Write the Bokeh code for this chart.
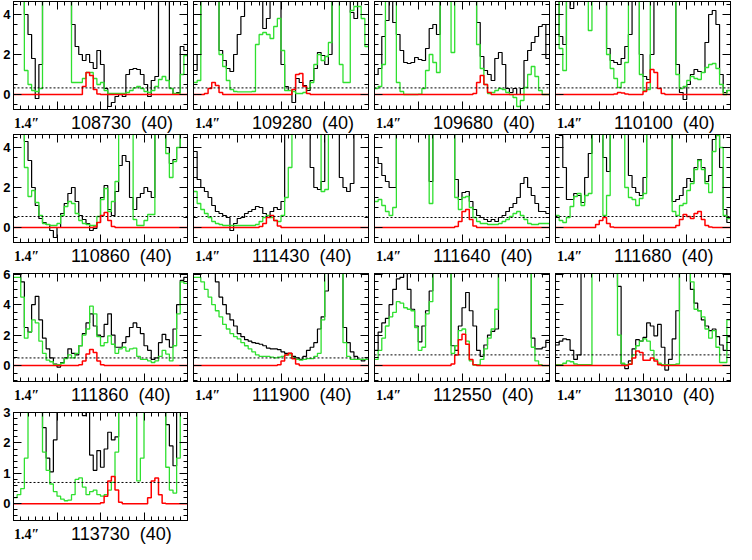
import numpy as np
from bokeh.plotting import figure
from bokeh.models import LinearAxis, FixedTicker, Range1d, Span, Div
from bokeh.layouts import column, row
from bokeh.embed import file_html
from bokeh.resources import INLINE

HI = 9.9  # channel off the top of the panel

# ---------------- data (48 channels, velocity -60..60) ----------------
obs_108730 = [HI, HI, HI, 4.0, 3.0, 1.8, -0.2, 1.5,
              HI, HI, HI, HI, HI, HI, HI, HI,
              3.5, 2.4, 2.0, 1.7, 2.0, 1.6, 1.3, 2.2,
              1.5, 0.3, -0.6, -0.4, -0.1, 0.0, -0.1, 1.0,
              1.25, 1.3, 1.25, 1.0, 0.5, -0.1, 0.7, 0.9,
              HI, HI, HI, 0.3, 0.0, 0.1, 2.4, 2.2]
mod_108730 = [HI, HI, HI, 1.2, 0.5, 0.2, 0.15, 0.3,
              HI, HI, HI, HI, HI, HI, HI, HI,
              0.6, 0.6, 0.6, 0.8, 1.1, 1.1, 0.8, 0.5,
              0.6, 0.2, 0.05, 0.05, 0.05, 0.05, 0.05, 0.1,
              0.2, 0.33, 0.4, 0.3, 0.15, 0.1, 0.2, 0.4,
              0.75, 0.9, 0.7, 0.3, 0.05, 0.05, 1.0, 1.95]
fit_108730 = [0, 0, 0, 0, 0, 0, 0, 0,
              0, 0, 0, 0, 0, 0, 0, 0,
              0, 0, 0, 0.4, 1.1, 0.95, 0.25, 0.02,
              0, 0, 0, 0, 0, 0, 0, 0,
              0, 0, 0, 0, 0, 0, 0, 0,
              0, 0, 0, 0, 0, 0, 0, 0]

obs_109280 = [1.2, 2.0, HI, HI, HI, HI, HI, 2.2,
              1.7, 1.3, 1.15, 2.0, 3.0, 3.9, HI, HI,
              HI, HI, HI, 3.3, 3.8, HI, HI, HI,
              1.5, 0.4, 0.2, -0.4, 0.8, 0.6, 0.45, 0.2,
              0.7, 1.3, 2.1, 1.95, 1.5, 2.0, HI, HI,
              HI, HI, HI, 4.1, 3.8, HI, HI, HI]
mod_109280 = [0.6, 0.7, HI, HI, HI, HI, HI, 2.0,
              1.4, 0.7, 0.25, 0.15, 0.13, 0.13, 0.13, 0.13,
              0.15, 2.5, 3.0, 3.1, 3.0, 2.8, 3.4, 3.8,
              2.2, 0.2, 0.2, 0.15, 0.05, 0.05, 0.1, 0.3,
              0.6, 1.5, 2.0, 1.7, 1.9, 2.6, HI, HI,
              1.5, 0.6, 0.6, 4.2, 4.4, 4.4, 3.8, 2.4]
fit_109280 = [0, 0, 0, 0.05, 0.3, 0.6, 0.45, 0.1,
              0, 0, 0, 0, 0, 0, 0, 0,
              0, 0, 0, 0, 0, 0, 0, 0,
              0, 0, 0, 0.25, 1.0, 1.05, 0.4, 0.05,
              0, 0, 0, 0, 0, 0, 0, 0,
              0, 0, 0, 0, 0, 0, 0, 0]

obs_109680 = [1.0, 1.3, 2.9, 3.7, HI, 3.6, 3.0, 2.2,
              1.6, 1.55, 1.6, 1.85, 1.75, 1.7, 2.3, 3.3,
              3.5, 3.0, HI, HI, HI, HI, HI, HI,
              HI, HI, HI, HI, 3.6, 1.9, 1.2, 1.0,
              0.7, 1.8, 2.1, 1.5, 0.3, 0.1, 0.3, 0.0,
              0.3, 1.7, 2.2, 2.6, 2.9, 3.4, 3.5, 1.8]
mod_109680 = [0.3, 0.4, 1.5, HI, HI, HI, 0.6, 0.15,
              0.0, 0.0, 0.0, 0.0, 0.02, 0.3, 1.2, 2.0,
              1.6, 1.1, HI, HI, HI, 2.1, HI, HI,
              HI, HI, HI, HI, 2.5, 1.3, 0.5, 0.05,
              0.1, 0.2, 0.3, 0.25, 0.1, 0.0, -0.15, -0.6,
              -0.3, 0.35, 1.0, 1.4, 0.9, 0.2, 0.0, 0.0]
fit_109680 = [0, 0, 0, 0, 0, 0, 0, 0,
              0, 0, 0, 0, 0, 0, 0, 0,
              0, 0, 0, 0, 0, 0, 0, 0,
              0, 0, 0, 0.05, 0.6, 0.95, 0.5, 0.1,
              0, 0, 0, 0, 0, 0, 0, 0,
              0, 0, 0, 0, 0, 0, 0, 0]

obs_110100 = [HI, 2.9, 2.5, HI, 4.3, HI, HI, HI,
              HI, HI, HI, HI, HI, HI, 2.3, 1.7,
              1.6, 1.5, 1.8, 2.4, 3.0, HI, HI, 2.0,
              0.9, 0.75, 2.0, HI, HI, HI, HI, HI,
              HI, 1.5, 0.1, -0.25, 0.5, 1.0, 1.25, 1.15,
              1.1, 2.6, 4.0, 4.2, 3.5, 1.0, 0.1, 0.2]
mod_110100 = [HI, 2.3, 1.2, HI, HI, HI, HI, HI,
              HI, 3.2, HI, HI, HI, HI, 2.0, 1.3,
              0.8, 0.35, 0.6, 1.6, HI, HI, HI, 1.0,
              0.2, 0.25, HI, HI, HI, HI, HI, HI,
              HI, 1.0, 0.3, 0.4, 0.7, 0.9, 0.8, 0.75,
              1.1, 1.35, 1.5, 1.55, 1.3, 0.5, 0.0, 0.2]
fit_110100 = [0, 0, 0, 0, 0, 0, 0, 0,
              0, 0, 0, 0, 0, 0, 0, 0,
              0.03, 0.1, 0.08, 0.02, 0, 0, 0, 0,
              0.15, 0.6, 1.25, 1.1, 0.3, 0.05, 0, 0,
              0, 0, 0, 0, 0, 0, 0, 0,
              0, 0, 0, 0, 0, 0, 0, 0]

obs_110860 = [HI, HI, HI, 4.3, 3.35, 2.0, 1.1, 0.45,
              0.25, 0.15, -0.15, -0.5, 0.0, 0.7, 1.2, 1.7,
              2.0, 1.3, 0.6, 0.4, 0.2, -0.15, -0.05, 0.25,
              1.5, 2.1, 0.9, 0.6, 1.8, 3.1, 3.6, 3.3,
              1.5, 0.9, 1.5, 1.7, 2.0, 1.8, 1.5, HI,
              HI, HI, 4.0, 3.2, 3.4, 4.0, HI, HI]
mod_110860 = [HI, HI, HI, 3.0, 1.55, 1.85, 1.25, 0.6,
              0.2, 0.15, 0.1, 0.1, 0.2, 0.6, 1.05, 1.3,
              1.2, 0.7, 0.35, 0.2, 0.15, 0.1, 0.1, 0.55,
              1.4, 1.95, 0.8, 1.3, 2.3, HI, HI, HI,
              HI, 0.4, 0.1, 0.1, 0.35, 0.65, 0.65, HI,
              HI, HI, 3.7, 2.5, 3.3, 4.0, HI, HI]
fit_110860 = [0, 0, 0, 0, 0, 0, 0, 0,
              0, 0, 0, 0, 0, 0, 0, 0,
              0, 0, 0, 0, 0, 0, 0.03, 0.25,
              0.6, 0.75, 0.35, 0.05, 0, 0, 0, 0,
              0, 0, 0, 0, 0, 0, 0, 0,
              0, 0, 0, 0, 0, 0, 0, 0]

obs_111430 = [3.8, 2.4, 2.0, 1.8, 1.5, 1.1, 0.8, 0.7,
              0.6, 0.5, -0.15, 0.2, 0.45, 0.5, 0.7, 0.8,
              0.9, 1.05, 1.0, 0.7, 0.6, 0.8, 1.0, 0.9,
              1.3, HI, HI, HI, HI, HI, HI, HI,
              3.0, 2.0, 1.9, 2.3, HI, HI, HI, HI,
              2.5, 2.0, 1.8, 2.2, HI, HI, HI, HI]
mod_111430 = [1.8, 1.2, 0.9, 0.7, 0.5, 0.3, 0.2, 0.15,
              0.1, 0.1, 0.1, 0.1, 0.1, 0.1, 0.1, 0.1,
              0.1, 0.15, 0.3, 0.5, 0.6, 0.5, 0.35, 0.3,
              0.6, 1.5, 3.0, HI, HI, HI, HI, HI,
              HI, HI, HI, 1.8, 1.9, HI, HI, HI,
              HI, HI, HI, HI, HI, HI, HI, HI]
fit_111430 = [0, 0, 0, 0, 0, 0, 0, 0,
              0, 0, 0, 0, 0, 0, 0, 0,
              0, 0, 0.05, 0.2, 0.5, 0.6, 0.35, 0.08,
              0, 0, 0, 0, 0, 0, 0, 0,
              0, 0, 0, 0, 0, 0, 0, 0,
              0, 0, 0, 0, 0, 0, 0, 0]

obs_111640 = [3.5, 3.2, 2.6, 2.3, 2.0, 2.0, HI, HI,
              HI, HI, HI, HI, HI, HI, HI, 2.3,
              HI, HI, HI, HI, HI, HI, 2.4, 1.4,
              1.75, 1.8, 1.3, 0.9, 0.6, 0.5, 0.4, 0.3,
              0.4, 0.3, 0.5, 0.6, 0.8, 1.0, 1.2, 1.5,
              2.2, 2.5, 2.0, 1.6, 1.2, 0.8, 0.8, 0.7]
mod_111640 = [1.3, 1.4, 1.1, 0.8, 0.6, 1.0, HI, HI,
              HI, HI, HI, HI, HI, HI, HI, 1.2,
              HI, HI, HI, HI, HI, HI, 1.5, 0.9,
              1.5, 1.55, 1.0, 0.5, 0.3, 0.2, 0.2, 0.15,
              0.15, 0.15, 0.2, 0.3, 0.4, 0.55, 0.7, 0.8,
              0.6, 0.4, 0.2, 0.15, 0.15, 0.2, 0.2, 0.2]
fit_111640 = [0, 0, 0, 0, 0, 0, 0, 0,
              0, 0, 0, 0, 0, 0, 0, 0,
              0, 0, 0, 0, 0, 0, 0.05, 0.3,
              0.8, 0.9, 0.4, 0.08, 0, 0, 0, 0,
              0, 0, 0, 0, 0, 0, 0, 0,
              0, 0, 0, 0, 0, 0, 0, 0]

obs_111680 = [HI, 4.6, 3.0, 1.4, 1.4, 1.7, 1.6, 1.25,
              2.5, 3.7, HI, HI, HI, 3.5, 2.8, HI,
              HI, HI, HI, HI, 2.6, 2.0, 1.75, 1.6,
              2.5, HI, HI, HI, HI, HI, HI, HI,
              1.3, 1.4, 1.6, 2.0, 2.45, 2.3, 3.0, 3.4,
              3.0, 2.3, 2.6, 4.4, HI, 3.0, 0.9, 0.25]
mod_111680 = [0.6, 0.35, 0.25, 0.5, 1.05, 1.55, 1.7, 1.1,
              1.6, 1.7, HI, HI, HI, 0.6, 1.6, HI,
              HI, HI, HI, 2.0, 1.5, 1.4, 1.1, 1.45,
              1.7, HI, HI, HI, HI, HI, HI, HI,
              0.8, 0.6, 1.1, 1.2, 1.85, 2.2, 2.9, 3.35,
              2.9, 2.2, 1.75, 3.8, 4.6, 4.0, 0.6, 0.45]
fit_111680 = [0, 0, 0, 0, 0, 0, 0, 0,
              0, 0, 0, 0.15, 0.35, 0.5, 0.2, 0.03,
              0, 0, 0, 0, 0, 0, 0, 0,
              0, 0, 0, 0, 0, 0, 0, 0,
              0, 0.1, 0.4, 0.65, 0.55, 0.45, 0.7, 0.8,
              0.4, 0.1, 0.02, 0, 0, 0, 0, 0]

obs_111860 = [HI, HI, 5.5, 2.5, 2.2, 4.0, 4.55, 3.0,
              1.8, 1.1, 0.5, 0.1, -0.1, 0.2, 0.5, 1.1,
              0.8, 0.7, 1.3, 2.1, 2.8, 3.4, 2.6, 2.0,
              1.9, 2.7, 3.4, 2.0, 1.2, 1.2, 1.5, 1.9,
              2.5, 2.8, 2.5, 2.1, 1.3, 1.0, 0.4, 0.5,
              1.5, 2.05, 1.7, 1.2, 2.4, 4.0, 5.6, 5.8]
mod_111860 = [5.8, 5.8, 4.5, 1.8, 2.2, 3.0, 2.8, 1.6,
              0.8, 0.35, 0.25, 0.05, 0.05, 0.15, 0.45, 0.7,
              0.5, 0.8, 1.3, 2.0, 2.4, 3.9, 3.4, 1.9,
              1.3, 1.5, 1.95, 1.4, 0.8, 1.1, 1.2, 0.95,
              1.1, 1.15, 0.6, 0.4, 0.4, 0.3, 0.2, 0.3,
              0.6, 1.0, 0.75, 0.3, 1.3, 3.4, 5.5, 5.4]
fit_111860 = [0, 0, 0, 0, 0, 0, 0, 0,
              0, 0, 0, 0, 0, 0, 0, 0,
              0, 0, 0.05, 0.3, 0.75, 1.05, 0.85, 0.3,
              0.05, 0, 0, 0, 0, 0, 0, 0,
              0, 0, 0, 0, 0, 0, 0, 0,
              0, 0, 0, 0, 0, 0, 0, 0]

obs_111900 = [HI, HI, HI, HI, HI, HI, 5.5, 4.5,
              4.0, 3.4, 3.0, 2.6, 2.1, 1.9, 1.7, 1.6,
              1.5, 1.45, 1.4, 1.3, 1.15, 1.1, 1.1, 1.05,
              0.9, 0.8, 0.8, 0.6, 0.5, 0.4, 0.6, 1.0,
              1.2, 1.5, 2.4, 3.2, 4.9, HI, HI, HI,
              HI, 2.5, 1.5, 0.9, 0.6, 0.4, 0.3, 0.4]
mod_111900 = [5.8, 5.8, 5.5, 5.0, 4.5, 4.0, 3.6, 3.2,
              2.7, 2.4, 2.1, 1.9, 1.75, 1.5, 1.3, 1.1,
              0.9, 0.7, 0.6, 0.6, 0.6, 0.55, 0.5, 0.55,
              0.6, 0.7, 0.7, 0.5, 0.4, 0.35, 0.4, 0.45,
              0.45, 0.6, 0.8, 3.0, HI, HI, HI, HI,
              HI, 1.5, 0.6, 0.4, 0.4, 0.4, 0.4, 0.4]
fit_111900 = [0, 0, 0, 0, 0, 0, 0, 0,
              0, 0, 0, 0, 0, 0, 0, 0,
              0, 0, 0, 0, 0, 0, 0, 0.05,
              0.3, 0.7, 0.8, 0.45, 0.1, 0, 0, 0,
              0, 0, 0, 0, 0, 0, 0, 0,
              0, 0, 0, 0, 0, 0, 0, 0]

obs_112550 = [1.0, 2.2, 2.8, 3.1, 4.0, 5.0, 5.7, 5.8,
              HI, 5.0, 3.7, 2.6, 1.55, 2.6, 3.6, 4.9,
              HI, HI, HI, HI, HI, 1.3, 1.0, 2.6,
              3.8, 4.8, 3.6, 2.6, 1.0, 0.6, 1.35, 2.0,
              2.25, 2.4, HI, HI, HI, HI, HI, HI,
              HI, HI, HI, 1.8, 1.1, 1.1, 1.2, 1.65]
mod_112550 = [0.4, 1.0, 1.8, 2.6, 3.2, 3.5, 4.2, 4.1,
              3.8, 3.7, 3.6, 2.5, 1.0, 1.2, 3.4, 4.2,
              HI, HI, HI, HI, HI, 0.8, 1.3, 2.3,
              2.4, 1.6, 0.3, 0.02, 0.05, 0.4, 1.1, 1.8,
              2.4, 3.7, HI, HI, HI, HI, HI, HI,
              HI, HI, HI, 1.2, 0.3, 0.05, 0.0, 0.0]
fit_112550 = [0, 0, 0, 0, 0, 0, 0, 0,
              0, 0, 0, 0, 0, 0, 0, 0,
              0, 0, 0, 0, 0, 0.1, 0.7, 1.7,
              2.05, 1.4, 0.4, 0.05, 0, 0, 0, 0,
              0, 0, 0, 0, 0, 0, 0, 0,
              0, 0, 0, 0, 0, 0, 0, 0]

obs_113010 = [1.35, 1.6, 1.75, 1.7, 1.0, 0.4, 0.7, HI,
              HI, HI, HI, HI, HI, HI, HI, HI,
              HI, 5.2, 0.1, -0.2, 0.3, 1.1, 1.7, 1.6,
              1.85, 2.8, 2.6, 1.95, 2.7, 1.2, -0.3, 0.4,
              1.75, 3.6, HI, HI, HI, 5.0, 4.1, 3.6,
              3.0, 2.6, 2.3, 2.4, 1.9, 1.35, 1.0, 1.9]
mod_113010 = [0.05, 0.05, 0.15, 0.3, 0.25, 0.1, 0.05, 0.05,
              0.05, 0.05, HI, HI, HI, HI, HI, HI,
              HI, 2.0, 0.15, 0.05, 0.1, 0.7, 1.3, 1.6,
              1.75, 1.6, 1.0, 0.4, 0.15, 0.05, 0.05, 0.05,
              0.05, 0.1, HI, HI, HI, 5.5, 3.7, 3.6,
              3.2, 2.4, 1.8, 2.3, 1.2, 0.2, 0.2, 3.0]
fit_113010 = [0, 0, 0, 0, 0, 0, 0, 0,
              0, 0, 0, 0, 0, 0, 0, 0,
              0, 0, 0, 0, 0.08, 0.5, 0.95, 0.85,
              0.35, 0.35, 0.5, 0.3, 0.05, 0, 0, 0,
              0, 0, 0, 0, 0, 0, 0, 0,
              0, 0, 0, 0, 0, 0, 0, 0]

obs_113730 = [HI, HI, HI, HI, HI, HI, HI, HI,
              2.5, 1.5, 1.05, 2.1, HI, HI, HI, HI,
              HI, HI, HI, 2.9, HI, 1.6, 1.1, 1.75,
              1.2, 1.8, 2.35, 2.1, 2.2, HI, HI, HI,
              HI, HI, HI, HI, HI, HI, HI, HI,
              HI, HI, 2.6, 1.9, 1.25, HI, HI, HI]
mod_113730 = [0.2, 0.3, 0.5, 1.5, HI, HI, HI, HI,
              1.7, 1.1, 0.65, 0.4, 0.25, 0.15, 0.1, 0.12,
              0.3, 0.8, 0.85, 0.55, 0.3, 0.4, 0.45, 0.3,
              0.25, 0.3, 0.45, 0.7, 1.7, HI, HI, HI,
              HI, HI, 0.75, 1.5, HI, HI, HI, HI,
              HI, HI, 1.2, 0.45, 0.35, 1.5, HI, HI]
fit_113730 = [0, 0, 0, 0, 0, 0, 0, 0,
              0, 0, 0, 0, 0, 0, 0, 0,
              0, 0, 0, 0, 0, 0, 0, 0,
              0.03, 0.25, 0.75, 0.9, 0.45, 0.05, 0, 0,
              0, 0, 0, 0, 0, 0.2, 0.75, 0.85,
              0.3, 0.02, 0, 0, 0, 0, 0, 0]

titles = ["108730  (40)", "109280  (40)", "109680  (40)", "110100  (40)",
          "110860  (40)", "111430  (40)", "111640  (40)", "111680  (40)",
          "111860  (40)", "111900  (40)", "112550  (40)", "113010  (40)",
          "113730  (40)"]
beam_label = "1.4\u2033"
rms_levels = [0.33, 0.33, 0.33, 0.33,
              0.55, 0.55, 0.5, 0.55,
              0.5, 0.5, 0.7, 0.7,
              0.7]
observed = [obs_108730, obs_109280, obs_109680, obs_110100, obs_110860, obs_111430,
            obs_111640, obs_111680, obs_111860, obs_111900, obs_112550, obs_113010,
            obs_113730]
model_all = [mod_108730, mod_109280, mod_109680, mod_110100, mod_110860, mod_111430,
             mod_111640, mod_111680, mod_111860, mod_111900, mod_112550, mod_113010,
             mod_113730]
model_species = [fit_108730, fit_109280, fit_109680, fit_110100, fit_110860, fit_111430,
                 fit_111640, fit_111680, fit_111860, fit_111900, fit_112550, fit_113010,
                 fit_113730]

vel_range = (-60, 60)
row_yrange = [(-0.75, 4.65), (-0.75, 4.65), (-1.05, 6.05), (-0.55, 3.0)]
row_ymajor = [[0, 2, 4], [0, 2, 4], [0, 2, 4, 6], [0, 1, 2, 3]]
row_yminor = [0.5, 0.5, 0.5, 0.2]

# ---------------- styling / layout ----------------
FRAME_W, FRAME_H = 175, 108
ROW_TOP = [1, 1, 7, 7]       # space above each row's frames
LABEL_H = 23                 # strip below each frame holding the captions
GREEN = "#2fe02f"


def style_axis(ax, labels=False):
    ax.axis_line_color = "black"
    ax.axis_line_width = 1
    ax.major_tick_line_color = "black"
    ax.minor_tick_line_color = "black"
    ax.major_tick_in = 8
    ax.major_tick_out = 0
    ax.minor_tick_in = 4
    ax.minor_tick_out = 0
    if labels:
        ax.major_label_text_font = "Liberation Sans"
        ax.major_label_text_font_style = "bold"
        ax.major_label_text_font_size = "13px"
        ax.major_label_text_color = "black"
        ax.major_label_standoff = 3
    else:
        ax.major_label_text_color = None
        ax.major_label_standoff = 0


def make_panel(i):
    r, c = divmod(i, 4)
    ylo, yhi = row_yrange[r]
    left = 12 if c == 0 else 3
    top = ROW_TOP[r]
    w = left + FRAME_W + 3
    p = figure(width=w, height=top + FRAME_H + 1,
               x_range=Range1d(*vel_range), y_range=Range1d(ylo, yhi),
               x_axis_type=None, y_axis_type=None,
               output_backend="svg", toolbar_location=None,
               min_border_left=left, min_border_right=3,
               min_border_top=top, min_border_bottom=1)
    p.outline_line_color = "black"
    p.background_fill_color = "white"
    p.border_fill_color = "white"

    step = (vel_range[1] - vel_range[0]) / 24.0
    xt = FixedTicker(ticks=list(np.arange(vel_range[0], vel_range[1] + 1, step * 6)),
                     minor_ticks=list(np.arange(vel_range[0], vel_range[1] + 1, step)))
    ms = row_yminor[r]
    yt = FixedTicker(ticks=row_ymajor[r],
                     minor_ticks=list(np.round(np.arange(np.ceil(ylo / ms) * ms, yhi + 1e-9, ms), 3)))
    for loc in ("below", "above"):
        ax = LinearAxis(ticker=xt)
        style_axis(ax)
        p.add_layout(ax, loc)
    axl = LinearAxis(ticker=yt)
    style_axis(axl, labels=(c == 0))
    p.add_layout(axl, "left")
    axr = LinearAxis(ticker=yt)
    style_axis(axr)
    p.add_layout(axr, "right")

    n = len(observed[i])
    edges = np.linspace(vel_range[0], vel_range[1], n + 1)
    ob = np.append(observed[i], observed[i][-1])
    mo = np.append(model_all[i], model_all[i][-1])
    fi = np.append(model_species[i], model_species[i][-1])
    p.step(edges, ob, mode="after", line_color="black", line_width=1.2)
    p.step(edges, mo, mode="after", line_color=GREEN, line_width=1.3)
    p.step(edges, fi, mode="after", line_color="red", line_width=1.5)
    p.add_layout(Span(location=rms_levels[i], dimension="width", line_color="black",
                      line_width=1, line_dash="2 2"))

    html = (
        f'<div style="position:relative;width:{w}px;height:{LABEL_H}px;">'
        f'<span style="position:absolute;left:{left + 2}px;top:7px;'
        f"font-family:'Liberation Serif';font-weight:bold;font-size:14px;"
        f'line-height:14px;white-space:pre;color:#000;">{beam_label}</span>'
        f'<span style="position:absolute;left:{left + 59}px;top:4px;'
        f"font-family:'Liberation Sans';font-size:18px;line-height:18px;"
        f'white-space:pre;color:#000;">{titles[i]}</span></div>'
    )
    cap = Div(text=html, width=w, height=LABEL_H, margin=0)
    return column(p, cap, spacing=0)


panels = [make_panel(i) for i in range(len(titles))]
rows = [row(*panels[k:k + 4], spacing=0) for k in range(0, len(panels), 4)]
layout = column(*rows, spacing=0)

open("out.html", "w").write(file_html(layout, INLINE))
